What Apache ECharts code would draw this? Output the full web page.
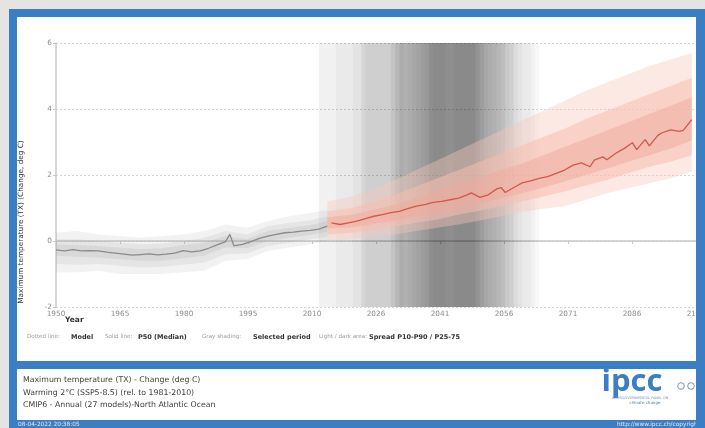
<!DOCTYPE html>
<html><head><meta charset="utf-8">
<script src="https://cdn.jsdelivr.net/npm/echarts@6/dist/echarts.min.js"></script>
<style>html,body{margin:0;padding:0;background:#e6e4e2;}#c{width:705px;height:428px;}</style>
</head><body><div id="c"></div>
<script>
// ---------- data ----------
const baseYear = 1950;
const xTickLabels = ['1950','1965','1980','1995','2010','2026','2041','2056','2071','2086','2101'];
const yTicks = [-2, 0, 2, 4, 6];

// historical (gray)
const histYears  = [1950,1952,1954,1956,1958,1960,1962,1964,1966,1968,1970,1972,1974,1976,1978,1980,1982,1984,1986,1988,1990,1991,1992,1994,1996,1998,2000,2002,2004,2006,2008,2010,2012,2014];
const histMedian = [-0.27,-0.3,-0.26,-0.3,-0.29,-0.3,-0.34,-0.37,-0.4,-0.43,-0.41,-0.39,-0.42,-0.4,-0.37,-0.29,-0.33,-0.3,-0.22,-0.12,-0.02,0.2,-0.15,-0.1,-0.02,0.08,0.15,0.2,0.25,0.27,0.3,0.32,0.36,0.45];

const histBandYears = [1950,1955,1960,1965,1970,1975,1980,1985,1990,1995,2000,2005,2010,2014];
const histMin = [-0.95,-0.95,-0.9,-1.0,-1.0,-1.0,-0.95,-0.9,-0.6,-0.55,-0.3,-0.2,-0.1,0.0];
const histP10 = [-0.7,-0.72,-0.7,-0.75,-0.8,-0.78,-0.72,-0.65,-0.4,-0.38,-0.15,-0.05,0.05,0.12];
const histP25 = [-0.45,-0.48,-0.5,-0.55,-0.6,-0.6,-0.52,-0.45,-0.2,-0.22,0.0,0.1,0.18,0.28];
const histP75 = [-0.1,-0.12,-0.15,-0.2,-0.25,-0.22,-0.12,-0.05,0.15,0.05,0.3,0.4,0.48,0.6];
const histP90 = [0.05,0.05,0.0,-0.05,-0.1,-0.08,0.0,0.1,0.3,0.2,0.45,0.55,0.62,0.75];
const histMax = [0.25,0.3,0.2,0.15,0.1,0.15,0.2,0.3,0.5,0.4,0.6,0.75,0.85,0.95];

// future SSP5-8.5 (red)
const futYears  = [2015,2017,2019,2021,2023,2025,2027,2029,2031,2033,2035,2037,2039,2041,2043,2045,2047,2048,2050,2052,2054,2055,2056,2058,2060,2062,2064,2066,2068,2070,2072,2074,2076,2077,2079,2080,2082,2084,2086,2087,2089,2090,2092,2093,2095,2097,2098,2100];
const futMedian = [0.55,0.5,0.55,0.6,0.68,0.75,0.8,0.86,0.9,0.98,1.06,1.1,1.17,1.2,1.25,1.3,1.4,1.46,1.32,1.4,1.58,1.62,1.47,1.62,1.76,1.82,1.9,1.95,2.05,2.15,2.3,2.37,2.25,2.45,2.55,2.46,2.65,2.8,2.98,2.77,3.07,2.88,3.2,3.28,3.37,3.32,3.35,3.68];

const futBandYears = [2014,2020,2025,2030,2035,2040,2045,2050,2055,2060,2065,2070,2075,2080,2085,2090,2095,2100];
const futMin = [0.0,0.05,0.15,0.2,0.3,0.4,0.5,0.62,0.75,0.88,0.98,1.05,1.25,1.45,1.6,1.75,1.9,2.1];
const futP10 = [0.2,0.25,0.35,0.45,0.55,0.65,0.8,0.92,1.05,1.2,1.35,1.5,1.68,1.85,2.05,2.25,2.4,2.6];
const futP25 = [0.38,0.42,0.52,0.62,0.75,0.88,1.02,1.15,1.3,1.45,1.62,1.8,2.0,2.2,2.4,2.6,2.8,3.05];
const futP75 = [0.72,0.8,0.95,1.1,1.3,1.5,1.72,1.92,2.15,2.35,2.6,2.85,3.1,3.35,3.6,3.85,4.1,4.35];
const futP90 = [0.9,1.0,1.2,1.4,1.65,1.9,2.15,2.4,2.65,2.9,3.15,3.4,3.7,3.95,4.2,4.45,4.7,4.95];
const futMax = [1.2,1.35,1.6,1.85,2.15,2.45,2.75,3.05,3.35,3.65,3.95,4.25,4.55,4.8,5.05,5.3,5.5,5.7];

// selected 20-year periods (start year per model)
const periodStarts = [2012,2012,2016,2020,2022,2022,2023,2029,2029,2030,2030,2031,2031,2032,2033,2034,2035,2036,2036,2037,2038,2038,2039,2040,2042,2043,2044];
const periodLength = 20;

// ---------- chart ----------
const FONT = 'DejaVu Sans';
const BLUE = '#3b7ec3';
const chart = echarts.init(document.getElementById('c'), null, {renderer: 'canvas'});

function pts(xs, ys) { return xs.map((x, i) => [x - baseYear, ys[i]]); }
function band(xs, lo, hi, color, z) {
  return {
    type: 'custom', silent: true, z: z,
    data: xs.map((x, i) => [x - baseYear, lo[i], hi[i]]),
    encode: {x: 0, y: [1, 2]},
    renderItem: function (params, api) {
      if (params.dataIndex !== 0) return null;
      const up = xs.map((x, i) => api.coord([x - baseYear, hi[i]]));
      const dn = xs.map((x, i) => api.coord([x - baseYear, lo[i]])).reverse();
      return {type: 'polygon', shape: {points: up.concat(dn)}, style: {fill: color}};
    }
  };
}

const series = [
  {type: 'line', name: 'shade', data: [], silent: true, z: 1,
   markArea: {silent: true, itemStyle: {color: 'rgba(0,0,0,0.027)'},
     data: periodStarts.map(s => [{xAxis: s - baseYear}, {xAxis: s - baseYear + periodLength}])}},
  band(histBandYears, histMin, histMax, 'rgba(160,160,160,0.14)', 2),
  band(histBandYears, histP10, histP90, 'rgba(160,160,160,0.16)', 2),
  band(histBandYears, histP25, histP75, 'rgba(160,160,160,0.18)', 2),
  band(futBandYears, futMin, futMax, 'rgba(247,200,188,0.4)', 2),
  band(futBandYears, futP10, futP90, 'rgba(245,190,175,0.55)', 2),
  band(futBandYears, futP25, futP75, 'rgba(240,170,155,0.5)', 2),
  {type: 'line', name: 'histMedian', data: pts(histYears, histMedian), symbol: 'none',
   lineStyle: {color: '#8a8a8a', width: 1.3}, z: 3, silent: true},
  {type: 'line', name: 'futMedian', data: pts(futYears, futMedian), symbol: 'none',
   lineStyle: {color: '#d4574a', width: 1.3}, z: 3, silent: true}
];

function txt(x, y, s, size, fill, opts) {
  return Object.assign({type: 'text', x: x, y: y, silent: true, z: 50,
    style: Object.assign({text: s, fontFamily: FONT, fontSize: size, fill: fill, verticalAlign: 'middle'}, (opts || {}).style || {})},
    (opts || {}).el || {});
}

const legend = [
  [27, 'Dotted line:', false], [71, 'Model', true], [105, 'Solid line:', false], [138, 'P50 (Median)', true],
  [202, 'Gray shading:', false], [253, 'Selected period', true], [319, 'Light / dark area:', false], [369, 'Spread P10-P90 / P25-75', true]
];

const graphic = [
  {type: 'rect', z: -10, silent: true, shape: {x: 0, y: 0, width: 705, height: 428}, style: {fill: '#e6e4e2'}},
  {type: 'rect', z: -9, silent: true, shape: {x: 9, y: 9, width: 696, height: 419}, style: {fill: BLUE}},
  {type: 'rect', z: -8, silent: true, shape: {x: 17, y: 17, width: 679, height: 344}, style: {fill: '#ffffff'}},
  {type: 'rect', z: -8, silent: true, shape: {x: 17, y: 369, width: 679, height: 51}, style: {fill: '#ffffff'}},
  {type: 'rect', z: 100, silent: true, shape: {x: 696, y: 9, width: 9, height: 419}, style: {fill: BLUE}},
  txt(21, 222, 'Maximum temperature (TX) (Change, deg C)', 7.3, '#333', {el: {rotation: Math.PI / 2}, style: {align: 'center'}}),
  txt(65, 320, 'Year', 7.5, '#333', {style: {fontWeight: 'bold'}}),
  ...legend.map(l => txt(l[0], 337, l[1], l[2] ? 6.5 : 5.6, l[2] ? '#333' : '#9a9a9a', {style: {fontWeight: l[2] ? 'bold' : 'normal'}})),
  txt(23, 380, 'Maximum temperature (TX) - Change (deg C)', 7.8, '#3c3c3c'),
  txt(23, 393, 'Warming 2°C (SSP5-8.5) (rel. to 1981-2010)', 7.8, '#3c3c3c'),
  txt(23, 405, 'CMIP6 - Annual (27 models)-North Atlantic Ocean', 7.8, '#3c3c3c'),
  txt(632, 382, 'ipcc', 31, BLUE, {style: {align: 'center', fontWeight: 'bold', fontFamily: 'Open Sans'}}),
  txt(640, 398, 'INTERGOVERNMENTAL PANEL ON', 3.4, '#7d95b5', {style: {align: 'center'}}),
  txt(645, 403, 'climate change', 4, '#4a78b0', {style: {align: 'center'}}),
  {type: 'circle', z: 50, silent: true, shape: {cx: 681, cy: 386, r: 3.3}, style: {fill: 'none', stroke: '#7f95b3', lineWidth: 1}},
  {type: 'circle', z: 50, silent: true, shape: {cx: 691, cy: 386, r: 3.3}, style: {fill: 'none', stroke: '#7f95b3', lineWidth: 1}},
  txt(18, 424, '08-04-2022 20:38:05', 5.8, '#dce8f6'),
  txt(700, 424, 'http://www.ipcc.ch/copyright', 5.8, '#dce8f6', {style: {align: 'right'}})
];

chart.setOption({
  animation: false,
  backgroundColor: 'transparent',
  grid: {left: 56, right: 9, top: 43, bottom: 121, containLabel: false, outerBoundsMode: 'none'},
  xAxis: {
    type: 'value', min: 0, max: 151, interval: 15.1,
    axisLine: {show: true, lineStyle: {color: '#c8c8c8', width: 1.5}},
    axisTick: {show: true, length: 3, lineStyle: {color: '#c8c8c8'}},
    axisLabel: {color: '#8c8c8c', fontSize: 7.3, fontFamily: FONT, margin: 4, showMaxLabel: true, showMinLabel: true,
      formatter: (v, i) => xTickLabels[i] !== undefined ? xTickLabels[i] : String(Math.round(baseYear + v))},
    splitLine: {show: false}
  },
  yAxis: {
    type: 'value', min: yTicks[0], max: yTicks[yTicks.length - 1], interval: 2,
    axisLine: {show: true, lineStyle: {color: '#c8c8c8', width: 1.5}},
    axisTick: {show: true, length: 3, lineStyle: {color: '#c8c8c8'}},
    axisLabel: {color: '#8c8c8c', fontSize: 7.3, fontFamily: FONT, margin: 4},
    splitLine: {show: true, lineStyle: {color: '#d4d4d4', type: [2, 2], width: 1}}
  },
  series: series,
  graphic: graphic
});
</script></body></html>
